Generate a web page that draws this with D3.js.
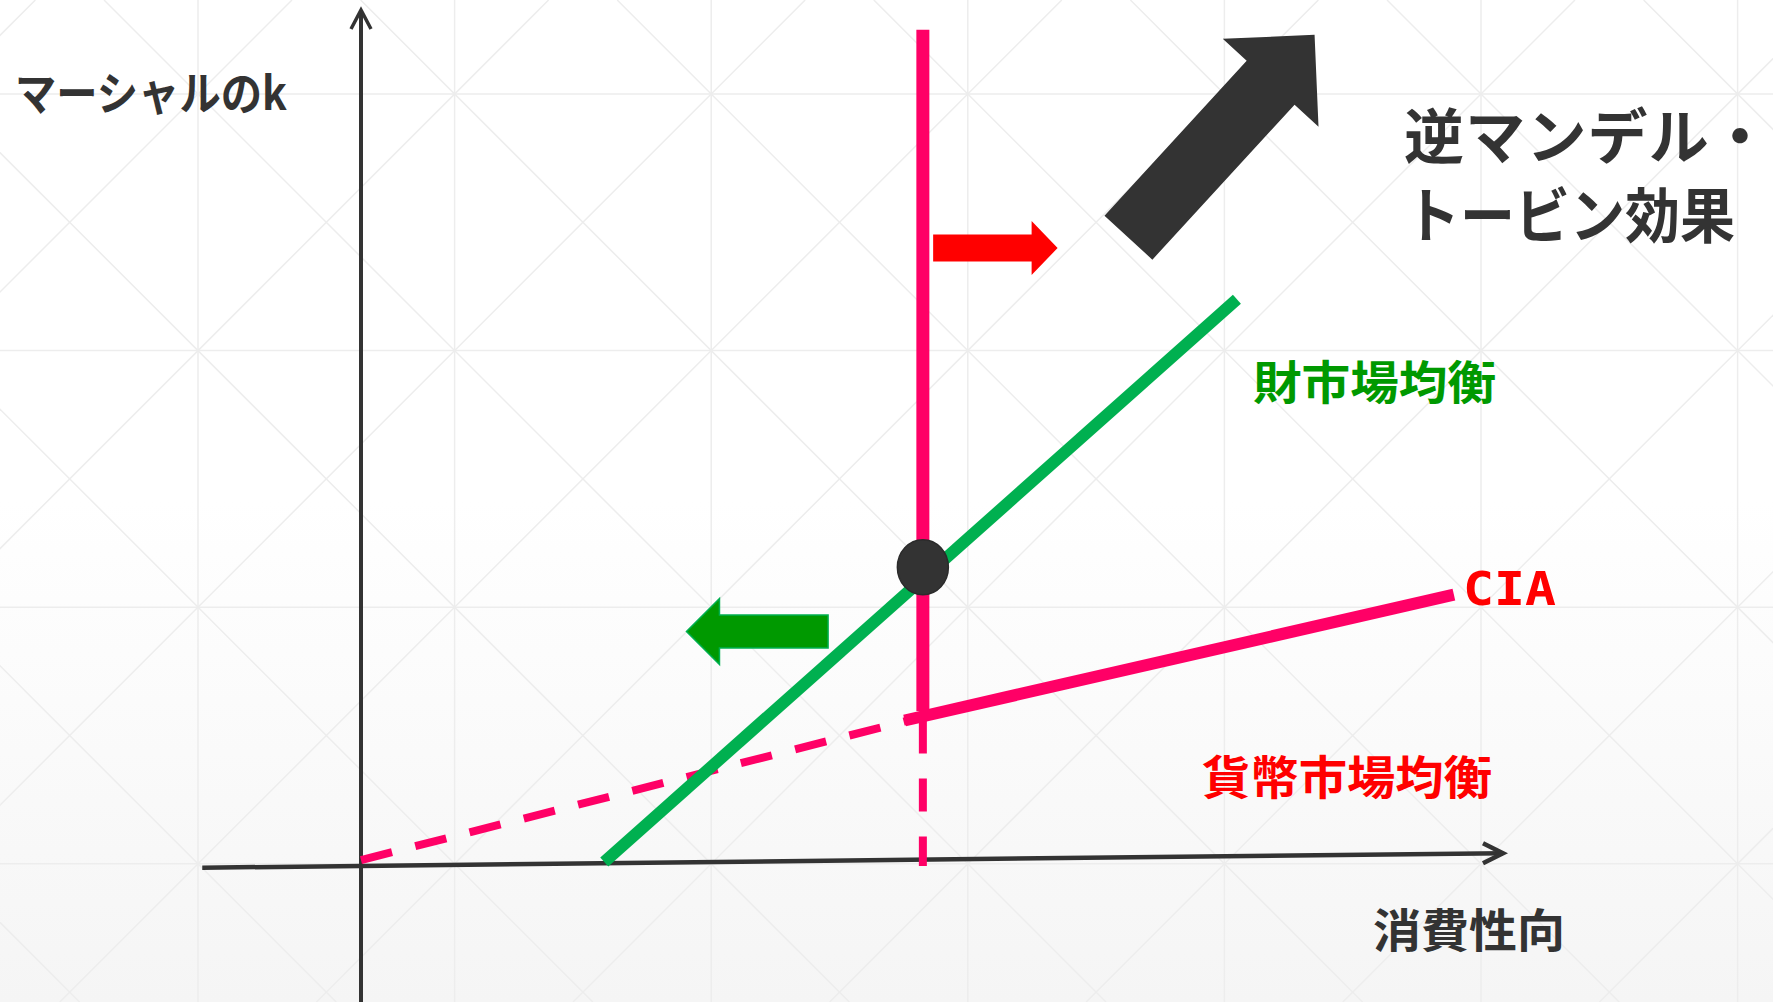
<!DOCTYPE html>
<html>
<head>
<meta charset="utf-8">
<script src="https://cdn.jsdelivr.net/npm/d3@7/dist/d3.min.js"></script>
<style>
  html, body { margin: 0; padding: 0; background: #ffffff; overflow: hidden; }
  svg { display: block; }
  text { font-family: "Noto Sans CJK JP", "Noto Sans", sans-serif; font-weight: 700; }
</style>
</head>
<body>
<svg id="chart" width="1773" height="1002"></svg>
<script>
// ---- data (abstract units: x = 消費性向, y = マーシャルのk) ----
const xAxisLine = [[-13.9, -0.2], [100, 1.5]];
const yAxisLine = [[0, -16.5], [0, 100]];
const goodsMarket = [[21.3, 0.47], [76.7, 66.2]];          // 財市場均衡
const ciaSolid = [[47.6, 17.0], [95.7, 31.7]];             // CIA (solid part)
const ciaDashed = [[0, 0.7], [49.1, 17.4]];                // CIA (dashed part)
const moneySolid = [[49.2, 97.7], [49.2, 18.1]];           // 貨幣市場均衡 (vertical)
const moneyDashed = [[49.2, 17.0], [49.2, 0]];
const equilibrium = [49.2, 34.9];
const redShift = [[50.1, 72.2], [61.0, 72.2]];
const greenShift = [[40.9, 27.4], [28.5, 27.4]];
const effectArrow = [[67.2, 73.4], [83.5, 97.1]];
const axisLabels = ["マーシャルのk", "消費性向"];
const curveLabels = ["財市場均衡", "貨幣市場均衡", "CIA"];
const effectLabel = ["逆マンデル・", "トービン効果"];

const W = 1773, H = 1002;
const svg = d3.select("#chart");
const x = d3.scaleLinear().domain([0, 100]).range([361, 1503]);
const y = d3.scaleLinear().domain([0, 100]).range([866, 10]);
const line = d3.line().x(d => x(d[0])).y(d => y(d[1]));

// background
const defs = svg.append("defs");
const grad = defs.append("linearGradient").attr("id", "bg").attr("x1", 0).attr("y1", 0).attr("x2", 0).attr("y2", 1);
grad.append("stop").attr("offset", "0%").attr("stop-color", "#ffffff");
grad.append("stop").attr("offset", "50%").attr("stop-color", "#ffffff");
grad.append("stop").attr("offset", "100%").attr("stop-color", "#f5f5f5");
svg.append("rect").attr("width", W).attr("height", H).attr("fill", "url(#bg)");

// decorative grid
const g0 = svg.append("g").attr("stroke", "#ededed").attr("stroke-width", 1.5).attr("fill", "none");
const gx0 = 198, gy0 = 94, gs = 256.6;
for (let i = -2; i < 10; i++) {
  const vx = gx0 + i * gs;
  g0.append("line").attr("x1", vx).attr("x2", vx).attr("y1", 0).attr("y2", H);
}
for (let j = -2; j < 6; j++) {
  const hy = gy0 + j * gs;
  g0.append("line").attr("x1", 0).attr("x2", W).attr("y1", hy).attr("y2", hy);
}
for (let k = -12; k < 14; k++) {
  const c = gx0 + k * gs - gy0; // x at y=0 for +45°
  g0.append("line").attr("x1", c).attr("y1", 0).attr("x2", c + H).attr("y2", H);
  const c2 = gx0 + k * gs + gy0; // x at y=0 for -45°
  g0.append("line").attr("x1", c2).attr("y1", 0).attr("x2", c2 - H).attr("y2", H);
}

// axes
svg.append("path").attr("d", line(yAxisLine)).attr("stroke", "#333").attr("stroke-width", 4).attr("fill", "none");
svg.append("path").attr("d", line(xAxisLine)).attr("stroke", "#333").attr("stroke-width", 4.5).attr("fill", "none");
// axis arrowheads
{
  const tx = x(yAxisLine[1][0]), ty = y(yAxisLine[1][1]);
  svg.append("path").attr("d", `M${tx - 10},${ty + 19}L${tx},${ty}L${tx + 10},${ty + 19}`)
    .attr("stroke", "#333").attr("stroke-width", 3.5).attr("fill", "none");
  const ax = x(xAxisLine[1][0]), ay = y(xAxisLine[1][1]);
  svg.append("path").attr("d", `M${ax - 20},${ay - 10}L${ax},${ay}L${ax - 20},${ay + 10}`)
    .attr("stroke", "#333").attr("stroke-width", 4.5).attr("fill", "none");
}

// curves
const pink = "#ff0066";
svg.append("path").attr("d", line(ciaDashed)).attr("stroke", pink).attr("stroke-width", 8)
  .attr("stroke-dasharray", "32,24").attr("fill", "none");
svg.append("path").attr("d", line(moneyDashed)).attr("stroke", pink).attr("stroke-width", 8)
  .attr("stroke-dasharray", "33,25").attr("fill", "none");
svg.append("path").attr("d", line(goodsMarket)).attr("stroke", "#00b050").attr("stroke-width", 12).attr("fill", "none");
svg.append("path").attr("d", line(moneySolid)).attr("stroke", pink).attr("stroke-width", 13).attr("fill", "none");
svg.append("path").attr("d", line(ciaSolid)).attr("stroke", pink).attr("stroke-width", 12).attr("fill", "none");

// equilibrium point
svg.append("ellipse").attr("cx", x(equilibrium[0])).attr("cy", y(equilibrium[1]))
  .attr("rx", 25.5).attr("ry", 27.5).attr("fill", "#333").attr("stroke", "#2b2b2b").attr("stroke-width", 1.5);

// block arrows
function blockArrow(pts, sh, hh, hl) {
  const T = [x(pts[0][0]), y(pts[0][1])], P = [x(pts[1][0]), y(pts[1][1])];
  const dx = P[0] - T[0], dy = P[1] - T[1], L = Math.hypot(dx, dy);
  const u = [dx / L, dy / L], n = [-u[1], u[0]];
  const B = [P[0] - u[0] * hl, P[1] - u[1] * hl];
  const p = (a, s) => [a[0] + n[0] * s, a[1] + n[1] * s];
  const poly = [p(T, sh), p(B, sh), p(B, hh), P, p(B, -hh), p(B, -sh), p(T, -sh)];
  return "M" + poly.map(q => q.join(",")).join("L") + "Z";
}
svg.append("path").attr("d", blockArrow(redShift, 13.5, 27, 26)).attr("fill", "#ff0000");
svg.append("path").attr("d", blockArrow(greenShift, 16.5, 33, 33)).attr("fill", "#009900")
  .attr("stroke", "#00b050").attr("stroke-width", 1.5);
svg.append("path").attr("d", blockArrow(effectArrow, 32.5, 65, 65)).attr("fill", "#333");

// labels
svg.append("text").attr("x", 15).attr("y", 110).attr("font-size", 46).attr("fill", "#333")
  .attr("textLength", 272).attr("lengthAdjust", "spacingAndGlyphs").text(axisLabels[0]);
svg.append("text").attr("x", 1373).attr("y", 947).attr("font-size", 46).attr("fill", "#333")
  .attr("textLength", 192).attr("lengthAdjust", "spacingAndGlyphs").text(axisLabels[1]);
svg.append("text").attr("x", 1253).attr("y", 399).attr("font-size", 46).attr("fill", "#009900")
  .attr("textLength", 243).attr("lengthAdjust", "spacingAndGlyphs").text(curveLabels[0]);
svg.append("text").attr("x", 1202).attr("y", 794).attr("font-size", 46).attr("fill", "#ff0000")
  .attr("textLength", 290).attr("lengthAdjust", "spacingAndGlyphs").text(curveLabels[1]);
svg.append("text").attr("x", 1463).attr("y", 605).attr("font-size", 46).attr("fill", "#ff0000")
  .style("font-family", "'DejaVu Sans Mono', monospace")
  .attr("textLength", 93).attr("lengthAdjust", "spacingAndGlyphs").text(curveLabels[2]);
svg.append("text").attr("x", 1404).attr("y", 159).attr("font-size", 60).attr("fill", "#333")
  .attr("textLength", 366).attr("lengthAdjust", "spacing").text(effectLabel[0]);
svg.append("text").attr("x", 1405).attr("y", 238).attr("font-size", 60).attr("fill", "#333")
  .attr("textLength", 330).attr("lengthAdjust", "spacingAndGlyphs").text(effectLabel[1]);
</script>
</body>
</html>
